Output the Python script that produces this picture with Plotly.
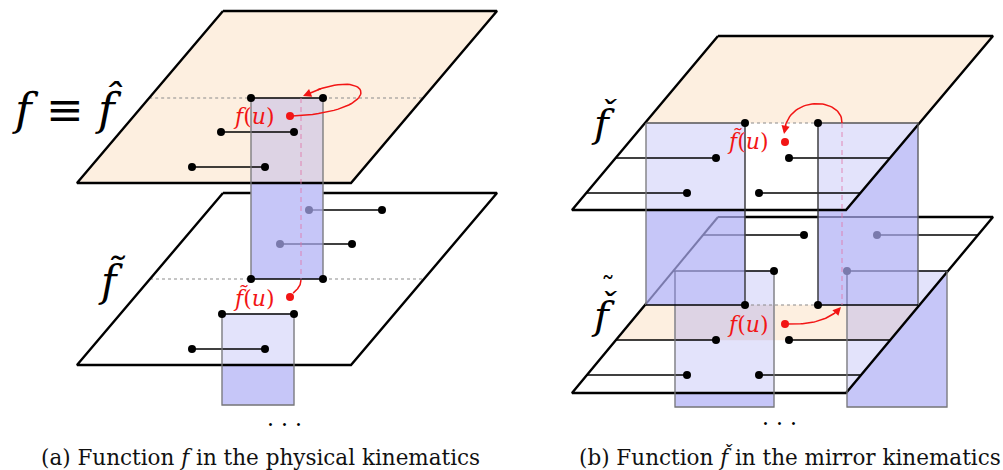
import plotly.graph_objects as go

# ---------------- geometry of the diagram (pixel space) ----------------
# panel (a)
A_TOP_PLANE_X = [223, 497, 351, 77]
A_TOP_PLANE_Y = [11, 11, 183, 183]
A_LOW_PLANE_X = [223, 497, 351, 77]
A_LOW_PLANE_Y = [193, 193, 365, 365]
A_WALL = [251, 323, 98, 279]          # x0, x1, y0, y1
A_LOW_RECT = [222, 294, 314, 405]
A_SEGS_TOP = [[221, 294, 132], [192, 265, 167]]      # x_left, x_right, y
A_SEGS_MID = [[309, 382, 210], [280, 352, 244]]
A_SEGS_LOW = [[192, 265, 349]]
A_DASH_X = 301
A_RED_X = [290, 290]
A_RED_Y = [116, 297]
A_ARROW_TOP = [[292, 116], [392, 112], [372, 62], [303, 96]]
A_ARROW_LOW = [[301, 280], [301, 286], [297, 290], [292, 294]]

# panel (b)
B_TOP_PLANE_X = [718, 993, 846, 572]
B_TOP_PLANE_Y = [36, 36, 210, 210]
B_LOW_PLANE_X = [718, 993, 846, 572]
B_LOW_PLANE_Y = [217, 217, 393, 393]
B_SPLIT_Y = 123
B_BAND_Y = [305, 340]
B_WALLS = [[646, 745, 123, 305], [818, 918, 123, 305]]
B_LOW_RECTS = [[675, 774, 271, 407], [847, 947, 271, 407]]
B_ROWS_TOP = [[158, 716, 789], [193, 687, 759]]           # y, left dot, right dot
B_ROWS_LOW = [[235, 804, 877], [271, 774, 847], [340, 716, 789], [375, 687, 759]]
B_DOT_X = [745, 818]
B_DASH_X = 842
B_RED_X = [785, 785]
B_RED_Y = [142, 324]
B_ARROW_TOP = [[842, 123], [843, 97], [786, 94], [784, 134]]
B_ARROW_LOW = [[787, 324], [815, 325], [832, 318], [841, 307]]

# texts
LABELS = ["<i>f</i> ≡ <i>f\u0302</i>", "<i>f\u0303</i>", "<i>f\u030C</i>", "<i>f\u030C</i>", "˜"]
LABEL_X = [67, 112, 604, 604, 608]
LABEL_Y = [108, 280, 122, 314, 287]
LABEL_SIZE = [45, 42, 40, 40, 28]
RED_LABELS = ["<i>f</i>(<i>u</i>)", "<i>f\u0303</i>(<i>u</i>)", "<i>f\u0303</i>(<i>u</i>)", "<i>f</i>(<i>u</i>)"]
RED_LABEL_X = [254, 254, 748, 748]
RED_LABEL_Y = [116, 298, 141, 324]
CAPTIONS = ["(a) Function <i>f</i> in the physical kinematics",
            "(b) Function <i>f\u030C</i> in the mirror kinematics"]
CAPTION_X = [260, 790]
CAPTION_Y = [457, 457]
ELLIPSIS_X = [284, 779]
ELLIPSIS_Y = [424, 423]

# colours
PEACH = "#FDEFE0"
LAV = "#E3E3FB"
BLUE = "#C6C6F8"
MIX = "#DDD3E4"
HID = "#7A7AAC"
SIDE = "#777777"
PINK = "rgba(225,120,170,0.65)"
RED = "#F21515"

fig = go.Figure()


def poly(pts, color):
    if not pts:
        return
    xs = [p[0] for p in pts] + [pts[0][0]]
    ys = [p[1] for p in pts] + [pts[0][1]]
    fig.add_trace(go.Scatter(x=xs, y=ys, mode="lines", fill="toself", fillcolor=color,
                             line=dict(width=0.5, color=color), hoverinfo="skip"))


def line(xs, ys, color="black", width=1.3, dash=None):
    fig.add_trace(go.Scatter(x=xs, y=ys, mode="lines", hoverinfo="skip",
                             line=dict(color=color, width=width, dash=dash)))


def dots(xs, ys, color="black", size=8):
    fig.add_trace(go.Scatter(x=xs, y=ys, mode="markers", hoverinfo="skip",
                             marker=dict(color=color, size=size, line=dict(width=0))))


def rect_pts(r):
    x0, x1, y0, y1 = r
    return [(x0, y0), (x1, y0), (x1, y1), (x0, y1)]


def plane_pts(px, py):
    return list(zip(px, py))


def edge_x(px, py, y, side):
    if side == "L":
        xa, ya, xb, yb = px[0], py[0], px[3], py[3]
    else:
        xa, ya, xb, yb = px[1], py[1], px[2], py[2]
    return xa + (y - ya) / (yb - ya) * (xb - xa)


def clip_poly(subject, clipper):
    def area(p):
        s = 0
        for i in range(len(p)):
            x1, y1 = p[i]
            x2, y2 = p[(i + 1) % len(p)]
            s += x1 * y2 - x2 * y1
        return s
    sign = 1 if area(clipper) > 0 else -1
    out = list(subject)
    n = len(clipper)
    for i in range(n):
        a = clipper[i]
        b = clipper[(i + 1) % n]

        def inside(p):
            return sign * ((b[0] - a[0]) * (p[1] - a[1]) - (b[1] - a[1]) * (p[0] - a[0])) >= 0

        def inter(p, q):
            x1, y1 = p
            x2, y2 = q
            x3, y3 = a
            x4, y4 = b
            den = (x1 - x2) * (y3 - y4) - (y1 - y2) * (x3 - x4)
            t = ((x1 - x3) * (y3 - y4) - (y1 - y3) * (x3 - x4)) / den
            return (x1 + t * (x2 - x1), y1 + t * (y2 - y1))
        inp = out
        out = []
        if not inp:
            break
        s = inp[-1]
        for e in inp:
            if inside(e):
                if not inside(s):
                    out.append(inter(s, e))
                out.append(e)
            elif inside(s):
                out.append(inter(s, e))
            s = e
    return out


def seg_in_rect(p, q, r):
    x0, x1, y0, y1 = r
    dx = q[0] - p[0]
    dy = q[1] - p[1]
    t0, t1 = 0.0, 1.0
    for pp, qq in ((-dx, p[0] - x0), (dx, x1 - p[0]), (-dy, p[1] - y0), (dy, y1 - p[1])):
        if pp == 0:
            if qq < 0:
                return None
        else:
            t = qq / pp
            if pp < 0:
                t0 = max(t0, t)
            else:
                t1 = min(t1, t)
    if t0 >= t1:
        return None
    return [(p[0] + t0 * dx, p[1] + t0 * dy), (p[0] + t1 * dx, p[1] + t1 * dy)]


def hidden_parts(p, q, rects, color=HID, width=1.3):
    for r in rects:
        s = seg_in_rect(p, q, r)
        if s:
            line([s[0][0], s[1][0]], [s[0][1], s[1][1]], color, width)


def bezier(ctrl, n=40):
    (x0, y0), (x1, y1), (x2, y2), (x3, y3) = ctrl
    xs, ys = [], []
    for i in range(n + 1):
        t = i / n
        a, b, c, d = (1 - t) ** 3, 3 * (1 - t) ** 2 * t, 3 * (1 - t) * t ** 2, t ** 3
        xs.append(a * x0 + b * x1 + c * x2 + d * x3)
        ys.append(a * y0 + b * y1 + c * y2 + d * y3)
    return xs, ys


def red_arrow(ctrl):
    xs, ys = bezier(ctrl)
    line(xs[:-3], ys[:-3], RED, 1.5)
    fig.add_annotation(x=xs[-1], y=ys[-1], ax=xs[-5], ay=ys[-5], xref="x", yref="y",
                       axref="x", ayref="y", text="", showarrow=True, arrowhead=2,
                       arrowsize=1.1, arrowwidth=1.5, arrowcolor=RED, standoff=0)


def plane_border(px, py, width=2.4):
    line(list(px) + [px[0]], list(py) + [py[0]], "black", width)


def dotted(px, py, y, gaps):
    xl = edge_x(px, py, y, "L")
    xr = edge_x(px, py, y, "R")
    xs = [xl] + [g for pair in gaps for g in pair] + [xr]
    for i in range(0, len(xs), 2):
        line([xs[i], xs[i + 1]], [y, y], "#8c8c8c", 1.1, "dot")


# ====================== panel (a) ======================
A_TOP = plane_pts(A_TOP_PLANE_X, A_TOP_PLANE_Y)
A_LOW = plane_pts(A_LOW_PLANE_X, A_LOW_PLANE_Y)

poly(A_LOW, "white")
dotted(A_LOW_PLANE_X, A_LOW_PLANE_Y, A_WALL[3], [(A_WALL[0], A_WALL[1])])
poly(rect_pts(A_LOW_RECT), BLUE)
poly(clip_poly(rect_pts(A_LOW_RECT), A_LOW), LAV)
plane_border(A_LOW_PLANE_X, A_LOW_PLANE_Y)
for xl, xr, y in A_SEGS_LOW:
    line([xl, xr], [y, y])
    dots([xl, xr], [y, y])
x0, x1, y0, y1 = A_LOW_RECT
line([x0, x0, x1, x1], [y0, y1, y1, y0], SIDE, 1.3)
line([x0, x1], [y0, y0], "black", 1.4)
dots([x0, x1], [y0, y0])

# segments of the lower plane partly behind the wall
for xl, xr, y in A_SEGS_MID:
    line([xl, xr], [y, y])
poly(rect_pts(A_WALL), BLUE)
for xl, xr, y in A_SEGS_MID:
    hidden_parts((xl, y), (xr, y), [A_WALL])
    dots([xl], [y], HID)
    dots([xr], [y])

# top plane
poly(A_TOP, PEACH)
poly(clip_poly(rect_pts(A_WALL), A_TOP), MIX)
dotted(A_TOP_PLANE_X, A_TOP_PLANE_Y, A_WALL[2], [(A_WALL[0], A_WALL[1])])
plane_border(A_TOP_PLANE_X, A_TOP_PLANE_Y)
for xl, xr, y in A_SEGS_TOP:
    line([xl, xr], [y, y])
    dots([xl, xr], [y, y])
x0, x1, y0, y1 = A_WALL
line([x0, x0], [y0, y1], SIDE, 1.3)
line([x1, x1], [y0, y1], SIDE, 1.3)
line([x0, x1], [y0, y0], "black", 1.4)
line([x0, x1], [y1, y1], "black", 1.4)
dots([x0, x1, x0, x1], [y0, y0, y1, y1])
line([A_DASH_X, A_DASH_X], [A_WALL[2], A_WALL[3]], PINK, 1.3, "5px,4px")

red_arrow(A_ARROW_TOP)
red_arrow(A_ARROW_LOW)
dots(A_RED_X, A_RED_Y, RED, 8)

# ====================== panel (b) ======================
B_TOP = plane_pts(B_TOP_PLANE_X, B_TOP_PLANE_Y)
B_LOW = plane_pts(B_LOW_PLANE_X, B_LOW_PLANE_Y)

poly(B_LOW, "white")
band = clip_poly(rect_pts([min(B_LOW_PLANE_X), max(B_LOW_PLANE_X), B_BAND_Y[0], B_BAND_Y[1]]), B_LOW)
poly(band, PEACH)
for r in B_LOW_RECTS:
    poly(rect_pts(r), BLUE)
    poly(clip_poly(rect_pts(r), B_LOW), LAV)
    poly(clip_poly(rect_pts(r), band), MIX)
dotted(B_LOW_PLANE_X, B_LOW_PLANE_Y, B_BAND_Y[0], [(w[0], w[1]) for w in B_WALLS])
plane_border(B_LOW_PLANE_X, B_LOW_PLANE_Y)

low_lines = []
for y, xdl, xdr in B_ROWS_LOW:
    xl = edge_x(B_LOW_PLANE_X, B_LOW_PLANE_Y, y, "L")
    xr = edge_x(B_LOW_PLANE_X, B_LOW_PLANE_Y, y, "R")
    line([xl, xdl], [y, y])
    line([xdr, xr], [y, y])
    low_lines += [((xl, y), (xdl, y)), ((xdr, y), (xr, y))]
for r in B_LOW_RECTS:
    x0, x1, y0, y1 = r
    line([x0, x0, x1, x1], [y0, y1, y1, y0], SIDE, 1.3)
    low_lines += [((x0, y0), (x0, y1))]

# walls in front of the lower plane
for w in B_WALLS:
    poly(rect_pts(w), BLUE)
for i in range(4):
    j = (i + 1) % 4
    hidden_parts(B_LOW[i], B_LOW[j], B_WALLS, HID, 2.0)
for p, q in low_lines:
    hidden_parts(p, q, B_WALLS)
for y, xdl, xdr in B_ROWS_LOW:
    for xd in (xdl, xdr):
        behind = any(w[0] <= xd <= w[1] and w[2] <= y <= w[3] for w in B_WALLS)
        dots([xd], [y], HID if behind else "black")

# top plane
poly(B_TOP, "white")
poly(clip_poly(rect_pts([min(B_TOP_PLANE_X), max(B_TOP_PLANE_X), B_TOP_PLANE_Y[0], B_SPLIT_Y]), B_TOP), PEACH)
for w in B_WALLS:
    poly(clip_poly(rect_pts(w), B_TOP), LAV)
line([B_DOT_X[0], B_DOT_X[1]], [B_SPLIT_Y, B_SPLIT_Y], "#8c8c8c", 1.1, "dot")
plane_border(B_TOP_PLANE_X, B_TOP_PLANE_Y)
for y, xdl, xdr in B_ROWS_TOP:
    xl = edge_x(B_TOP_PLANE_X, B_TOP_PLANE_Y, y, "L")
    xr = edge_x(B_TOP_PLANE_X, B_TOP_PLANE_Y, y, "R")
    line([xl, xdl], [y, y])
    line([xdr, xr], [y, y])
    dots([xdl, xdr], [y, y])

# wall outlines
(lx0, lx1, wy0, wy1), (rx0, rx1, _, _) = B_WALLS
line([lx0, lx1], [wy0, wy0], "#555555", 1.3)
line([rx0, rx1], [wy0, wy0], "#555555", 1.3)
line([lx0, lx0], [wy0, wy1], SIDE, 1.3)
line([rx1, rx1], [wy0, wy1], "#555555", 1.3)
line([lx1, lx1], [wy0, wy1], "#333333", 1.4)
line([rx0, rx0], [wy0, wy1], "#333333", 1.4)
line([lx0, lx1], [wy1, wy1], "black", 1.6)
line([rx0, rx1], [wy1, wy1], "black", 1.6)
dots(B_DOT_X * 2, [wy0, wy0, wy1, wy1])
line([B_DASH_X, B_DASH_X], [wy0, wy1], PINK, 1.3, "5px,4px")

red_arrow(B_ARROW_TOP)
red_arrow(B_ARROW_LOW)
dots(B_RED_X, B_RED_Y, RED, 8)

# ====================== texts ======================
SERIF = "DejaVu Serif"
for t, x, y, s in zip(LABELS, LABEL_X, LABEL_Y, LABEL_SIZE):
    fig.add_annotation(x=x, y=y, text=t, showarrow=False, xref="x", yref="y",
                       font=dict(family=SERIF, size=s, color="black"))
for t, x, y in zip(RED_LABELS, RED_LABEL_X, RED_LABEL_Y):
    fig.add_annotation(x=x, y=y, text=t, showarrow=False, xref="x", yref="y",
                       font=dict(family=SERIF, size=22, color=RED))
for t, x, y in zip(CAPTIONS, CAPTION_X, CAPTION_Y):
    fig.add_annotation(x=x, y=y, text=t, showarrow=False, xref="x", yref="y",
                       font=dict(family=SERIF, size=21.5, color="#111111"))
for x, y in zip(ELLIPSIS_X, ELLIPSIS_Y):
    fig.add_annotation(x=x, y=y, text="· · ·", showarrow=False, xref="x", yref="y",
                       font=dict(family=SERIF, size=22, color="black"))

fig.update_layout(
    width=1003, height=470, margin=dict(l=0, r=0, t=0, b=0),
    paper_bgcolor="white", plot_bgcolor="white", showlegend=False,
    xaxis=dict(range=[0, 1003], visible=False, fixedrange=True),
    yaxis=dict(range=[470, 0], visible=False, fixedrange=True),
)
fig.write_html("out.html", config={"displayModeBar": False},
               post_script="document.body.style.margin='0';document.body.style.overflow='hidden';")
